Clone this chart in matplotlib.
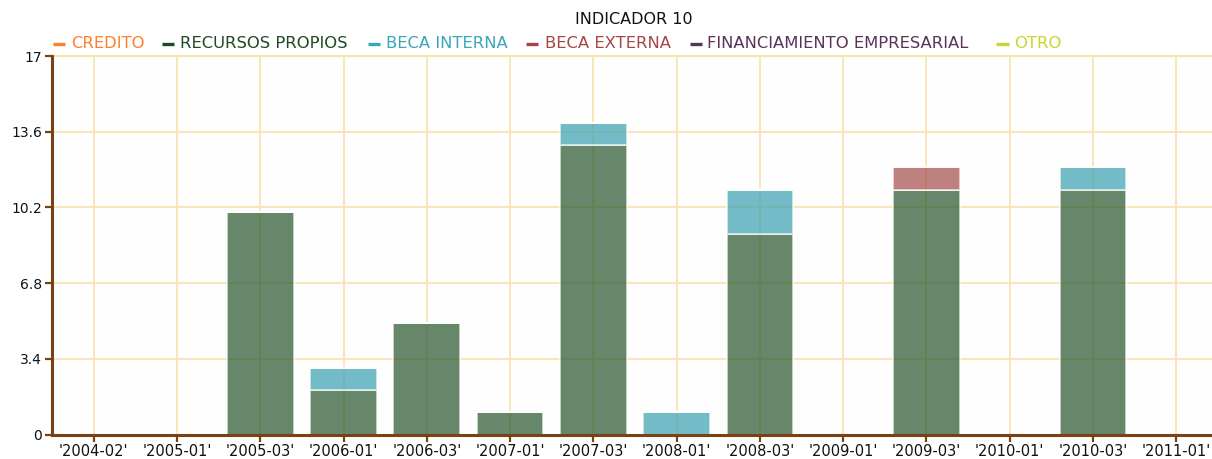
import matplotlib
matplotlib.use("Agg")
import matplotlib.pyplot as plt
from matplotlib.lines import Line2D
import numpy as np

categories = ["'2004-02'", "'2005-01'", "'2005-03'", "'2006-01'", "'2006-03'", "'2007-01'",
              "'2007-03'", "'2008-01'", "'2008-03'", "'2009-01'", "'2009-03'", "'2010-01'",
              "'2010-03'", "'2011-01'"]
credito = [0, 0, 0, 0, 0, 0, 0, 0, 0, 0, 0, 0, 0, 0]
recursos_propios = [0, 0, 10, 2, 5, 1, 13, 0, 9, 0, 11, 0, 11, 0]
beca_interna = [0, 0, 0, 1, 0, 0, 1, 1, 2, 0, 0, 0, 1, 0]
beca_externa = [0, 0, 0, 0, 0, 0, 0, 0, 0, 0, 1, 0, 0, 0]
financiamiento = [0, 0, 0, 0, 0, 0, 0, 0, 0, 0, 0, 0, 0, 0]
otro = [0, 0, 0, 0, 0, 0, 0, 0, 0, 0, 0, 0, 0, 0]
y_ticks = [0, 3.4, 6.8, 10.2, 13.6, 17]
y_tick_labels = ["0", "3.4", "6.8", "10.2", "13.6", "17"]

series_names = ["CREDITO", "RECURSOS PROPIOS", "BECA INTERNA", "BECA EXTERNA",
                "FINANCIAMIENTO EMPRESARIAL", "OTRO"]
series_vals = [credito, recursos_propios, beca_interna, beca_externa, financiamiento, otro]
legend_colors = ["#FF7F2A", "#1F4A22", "#3AA6B9", "#A84545", "#5A3358", "#C8D630"]
bar_colors = ["#FF7F2A", "#2B5A30", "#3EA3B2", "#A74F4F", "#5A3358", "#C8D630"]

W, H = 1212, 459
fig = plt.figure(figsize=(W / 100, H / 100), dpi=100)
fig.patch.set_facecolor("#FFFFFF")
ax_left, ax_right = 52, 1218
ax_top, ax_bot = 56, 434.5
ax = fig.add_axes([ax_left / W, 1 - ax_bot / H, (ax_right - ax_left) / W, (ax_bot - ax_top) / H])
ax.set_facecolor("#FEFEFE")

x = np.arange(len(categories))
bottom = np.zeros(len(categories))
for vals, col in zip(series_vals, bar_colors):
    v = np.array(vals, dtype=float)
    ax.bar(x, v, width=0.8, bottom=bottom, color=col, alpha=0.72,
           edgecolor=(1, 1, 1, 0.6), linewidth=1.2, zorder=2)
    bottom += v

ax.set_xlim(-0.5, len(categories) - 0.5)
ax.set_ylim(0, 17)
ax.set_xticks(x)
ax.set_xticklabels(categories, fontsize=10.5, color="#111111")
ax.set_yticks(y_ticks)
ax.set_yticklabels(y_tick_labels, fontsize=10, color="#111111")

grid_col = "#F8E4B2"
ax.grid(True, color=grid_col, linewidth=1.3, zorder=0)
ax.set_axisbelow(True)
for s in ["top", "right"]:
    ax.spines[s].set_visible(False)
spine_col = "#7A4214"
for s in ["left", "bottom"]:
    ax.spines[s].set_color(spine_col)
    ax.spines[s].set_linewidth(2.2)
ax.tick_params(axis="both", colors=spine_col, length=5, width=1.6, labelcolor="#111111", pad=2)
ax.axhline(17, color=grid_col, linewidth=1.6, zorder=0, clip_on=False)

fig.text(634 / W, 1 - 19.5 / H, "INDICADOR 10", ha="center", va="center",
         fontsize=11.5, color="#111111")

# manual legend layout (pixel positions of dash and label)
dash_x = [(53, 65), (162, 174), (368, 380), (526, 538), (690, 702), (996, 1009)]
text_x = [71, 180, 385.5, 545, 707, 1014.5]
ly = 1 - 44 / H
for (d0, d1), tx, name, c in zip(dash_x, text_x, series_names, legend_colors):
    fig.add_artist(Line2D([d0 / W, d1 / W], [ly, ly], transform=fig.transFigure,
                          color=c, linewidth=2.4, solid_capstyle="butt"))
    fig.text(tx / W, ly, name, ha="left", va="center", fontsize=11.8, color=c)

fig.savefig("out.png", dpi=100)
